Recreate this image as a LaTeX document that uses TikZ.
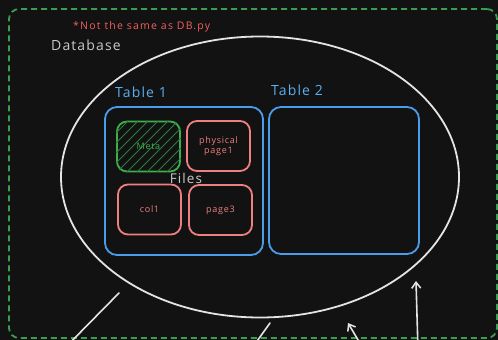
\documentclass[tikz,border=0pt]{standalone}
\usepackage{fontspec}
\setmainfont{Open Sans}
\newfontfamily\sketchfont[LetterSpace=8]{Open Sans}
\newfontfamily\notefont[LetterSpace=11.5]{Open Sans}
\usetikzlibrary{shapes.geometric,arrows.meta}
\definecolor{bg}{HTML}{121212}
\definecolor{framegreen}{HTML}{3A9E52}
\definecolor{chalk}{HTML}{E4E4E4}
\definecolor{tblue}{HTML}{4A9DEA}
\definecolor{lblue}{HTML}{5BAEF0}
\definecolor{pinkred}{HTML}{F07F7F}
\definecolor{metagreen}{HTML}{3DAF4F}
\definecolor{hatch}{HTML}{2C7D3C}
\definecolor{notered}{HTML}{F25F5F}
\tikzset{
  dbframe/.style={draw=framegreen, line width=1.8pt, dash pattern=on 6pt off 4pt,
    rounded corners=10pt, inner sep=0pt},
  dbshape/.style={draw=chalk, line width=1.8pt, ellipse, inner sep=0pt},
  tablebox/.style={draw=tblue, line width=1.8pt, rounded corners=12pt, inner sep=0pt},
  filebox/.style={draw=pinkred, line width=1.8pt, rounded corners=10pt, inner sep=0pt,
    minimum width=63pt, minimum height=50pt, text=pinkred,
    font=\sketchfont\fontsize{9}{10.5}\selectfont, align=center},
  metabox/.style={filebox, draw=metagreen, text=metagreen},
  label/.style={inner sep=0pt, anchor=west},
  link/.style={draw=chalk, line width=1.6pt, line cap=round},
  linkarrow/.style={link, -{Straight Barb[length=6pt,width=9pt,line width=1.5pt]}}
}
\begin{document}
\begin{tikzpicture}[x=1pt,y=-1pt]
\fill[bg] (0,0) rectangle (498,340);
\clip (0,0) rectangle (498,340);

% outer database frame
\node[dbframe, minimum width=488pt, minimum height=329pt] (frame) at (253,173.5) {};

% texts
\node[label, text=notered, font=\notefont\fontsize{10.5}{12}\selectfont] (note) at (73,27) {*Not the same as DB.py};
\node[label, text=chalk!88!black, font=\sketchfont\fontsize{14}{16}\selectfont] (dbname) at (51,45) {Database};

% database outline
\node[dbshape, minimum width=398pt, minimum height=281pt] (db) at (260,177) {};

% tables
\node[label, text=lblue, font=\sketchfont\fontsize{14}{16}\selectfont] (t1name) at (115,92) {Table 1};
\node[label, text=lblue, font=\sketchfont\fontsize{14}{16}\selectfont] (t2name) at (271,90) {Table 2};
\node[tablebox, minimum width=158pt, minimum height=148pt] (tbl1) at (184,181) {};
\node[tablebox, minimum width=150pt, minimum height=147pt] (tbl2) at (344,180.5) {};

% files inside table 1
\node[metabox] (meta) at (148.5,146.5) {};
\begin{scope}
  \clip[rounded corners=10pt] (meta.south west) rectangle (meta.north east);
  \foreach \i in {-60,-50,...,70}
    \draw[hatch, line width=0.8pt] (117+\i,172) -- (117+\i+60,112);
\end{scope}
\node[metabox, draw=none, fill=none] at (meta) {Meta};
\node[filebox] (phys) at (218.5,146) {physical\\page1};
\node[filebox] (col1) at (149.5,209.5) {col1};
\node[filebox] (page3) at (220.5,210) {page3};
\node[inner sep=0pt, text=chalk!88!black, font=\sketchfont\fontsize{13.5}{15}\selectfont] (files) at (186,178) {Files};

% connectors leaving the picture at the bottom
\coordinate (l1a) at (119,293);
\coordinate (l1b) at (58,355);
\coordinate (l2a) at (270,323);
\coordinate (l2b) at (250,351);
\coordinate (a3tail) at (364,350);
\coordinate (a3tip) at (348,323);
\coordinate (a4tail) at (418,350);
\coordinate (a4tip) at (416,281);
\draw[link] (l1a) -- (l1b);
\draw[link] (l2a) -- (l2b);
\draw[linkarrow] (a3tail) -- (a3tip);
\draw[linkarrow] (a4tail) -- (a4tip);
\end{tikzpicture}
\end{document}
